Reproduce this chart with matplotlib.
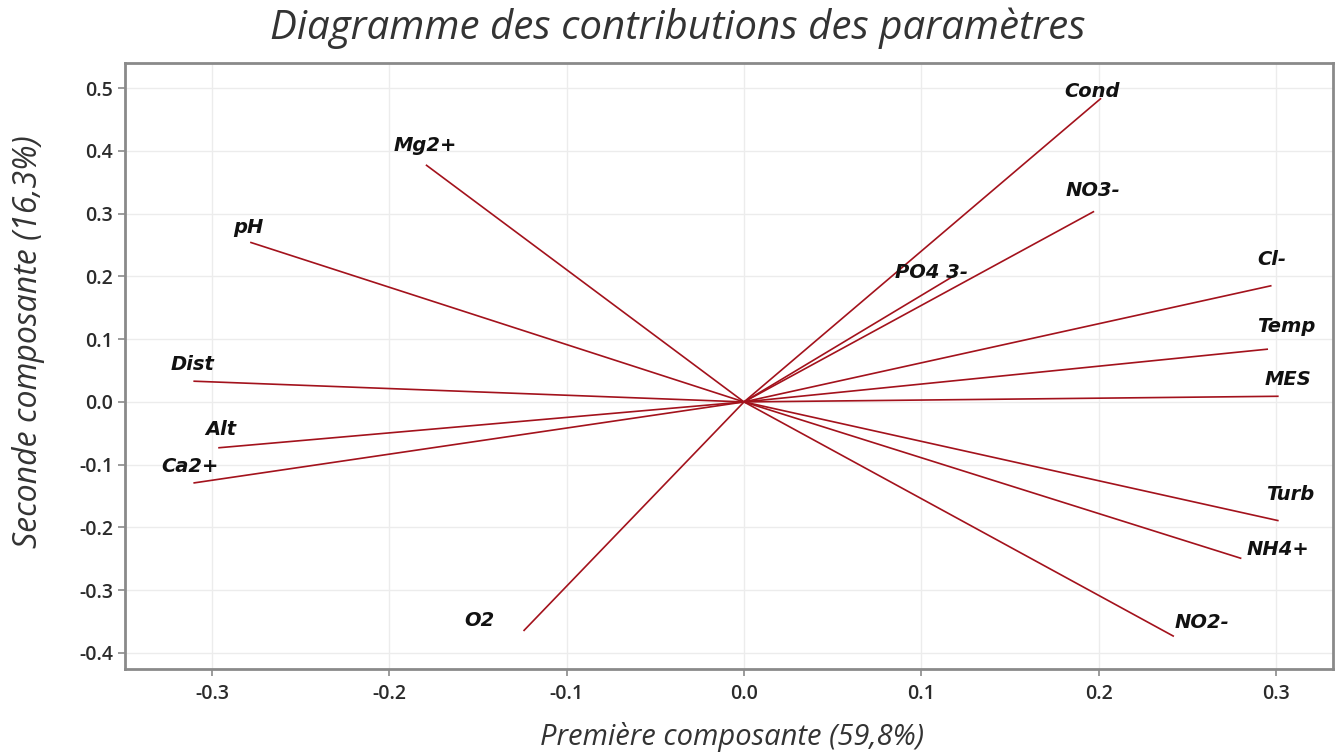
import numpy as np
import matplotlib.pyplot as plt

# loadings (PC1, PC2)
params = ["Cond", "NO3-", "PO4 3-", "Cl-", "Temp", "MES", "Turb", "NH4+",
          "NO2-", "O2", "Ca2+", "Alt", "Dist", "pH", "Mg2+"]
pc1 = [0.201, 0.197, 0.119, 0.297, 0.295, 0.301, 0.301, 0.280,
       0.242, -0.124, -0.310, -0.296, -0.310, -0.278, -0.179]
pc2 = [0.483, 0.303, 0.202, 0.185, 0.084, 0.009, -0.189, -0.249,
       -0.373, -0.364, -0.129, -0.073, 0.033, 0.254, 0.377]

# label offsets in points (dx, dy) from the end of each arrow
offsets = [(-6, 5), (0, 15), (-17, 2), (1, 19), (14, 16), (7, 12), (9, 19), (27, 6),
           (21, 10), (-32, 7), (-3, 12), (1, 13), (-1, 12), (-2, 11), (-1, 14)]

line_col = "#a3121c"

fig = plt.figure(figsize=(13.36, 7.53), dpi=100)
ax = fig.add_axes([0.0936, 0.1116, 0.904, 0.8047])

for x, y, name, off in zip(pc1, pc2, params, offsets):
    ax.plot([0, x], [0, y], color=line_col, lw=1.2, zorder=3)
    ax.annotate(name, (x, y), xytext=off, textcoords="offset points",
                ha="center", va="center", fontsize=14, fontweight="bold",
                fontstyle="oblique", family="DejaVu Sans", color="#111111", zorder=4)

ax.set_xlim(-0.349, 0.332)
ax.set_ylim(-0.4255, 0.540)
ax.set_xticks(np.arange(-0.3, 0.31, 0.1))
ax.set_yticks(np.arange(-0.4, 0.51, 0.1))
ax.set_xticklabels(["-0.3", "-0.2", "-0.1", "0.0", "0.1", "0.2", "0.3"])
ax.set_yticklabels(["-0.4", "-0.3", "-0.2", "-0.1", "0.0", "0.1", "0.2", "0.3", "0.4", "0.5"])
ax.grid(True, color="#ececec", lw=1)
ax.set_axisbelow(True)

for s in ax.spines.values():
    s.set_color("#8a8a8a")
    s.set_linewidth(2)
ax.tick_params(colors="#8a8a8a", length=5, width=1.2, labelcolor="#2b2b2b", labelsize=14)
ax.tick_params(axis="x", pad=6)
for lab in ax.get_xticklabels() + ax.get_yticklabels():
    lab.set_family("Open Sans")
    lab.set_fontweight("semibold")

ax.set_xlabel("Première composante (59,8%)", fontsize=21, fontstyle="italic",
              family="Open Sans", color="#333333")
ax.xaxis.set_label_coords(0.5025, -0.087)
ax.set_ylabel("Seconde composante (16,3%)", fontsize=23, fontstyle="italic",
              family="Open Sans", color="#333333")
ax.yaxis.set_label_coords(-0.066, 0.541)
fig.text(0.507, 0.962, "Diagramme des contributions des paramètres", ha="center", va="center",
         fontsize=29, fontstyle="italic", family="Open Sans", color="#333333")

fig.savefig("out.png", dpi=100)
